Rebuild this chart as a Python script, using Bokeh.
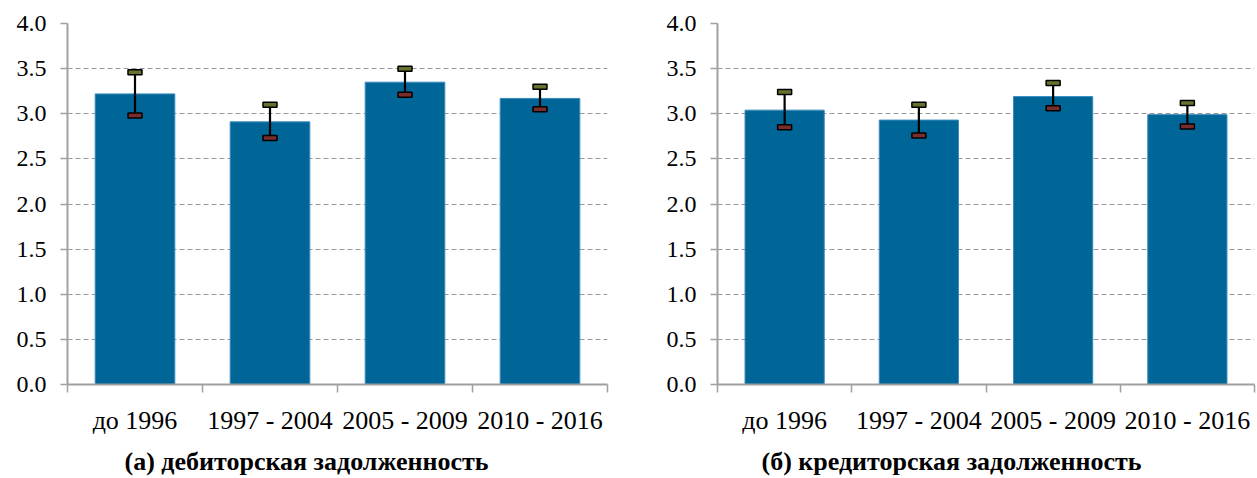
from bokeh.plotting import figure
from bokeh.layouts import row
from bokeh.models import (FixedTicker, NumeralTickFormatter, Range1d, Title, ColumnDataSource)
from bokeh.embed import file_html
from bokeh.resources import INLINE

categories = ["до 1996", "1997 - 2004", "2005 - 2009", "2010 - 2016"]
y_ticks = [0.0, 0.5, 1.0, 1.5, 2.0, 2.5, 3.0, 3.5, 4.0]

recv_mean = [3.22, 2.91, 3.35, 3.17]
recv_upper = [3.46, 3.10, 3.50, 3.30]
recv_lower = [2.98, 2.73, 3.21, 3.05]

pay_mean = [3.04, 2.93, 3.19, 2.99]
pay_upper = [3.24, 3.10, 3.34, 3.12]
pay_lower = [2.85, 2.76, 3.06, 2.86]

titles = ["(а) дебиторская задолженность", "(б) кредиторская задолженность"]

BAR = "#006597"
GRAY = "#a0a0a0"
FONT = "Liberation Serif"


def panel(mean, upper, lower, title, fw, left, right, toff):
    xs = [i + 0.5 for i in range(len(categories))]
    p = figure(output_backend="svg", toolbar_location=None,
               frame_width=fw, frame_height=361,
               x_range=Range1d(0, len(categories)), y_range=Range1d(0, 4),
               min_border_left=left, min_border_right=right,
               min_border_top=23, min_border_bottom=0)
    p.outline_line_color = None
    p.background_fill_color = "white"
    p.border_fill_color = "white"

    src = ColumnDataSource(dict(x=xs, m=mean, u=upper, l=lower))
    p.vbar(x="x", top="m", width=0.59, bottom=0, source=src,
           fill_color=BAR, line_color="#3a8cc0", line_width=1)
    p.segment(x0="x", y0="l", x1="x", y1="u", source=src,
              line_color="black", line_width=2.2)
    p.rect(x="x", y="u", width=14, height=5, width_units="screen",
           height_units="screen", source=src, fill_color="#66732e",
           line_color="black", line_width=1.5)
    p.rect(x="x", y="l", width=14, height=5, width_units="screen",
           height_units="screen", source=src, fill_color="#7a2c2c",
           line_color="black", line_width=1.5)

    # x axis
    xa = p.xaxis[0]
    xa.ticker = FixedTicker(ticks=xs, minor_ticks=list(range(len(categories) + 1)))
    xa.major_label_overrides = {x: c for x, c in zip(xs, categories)}
    xa.major_tick_line_color = None
    xa.major_tick_out = 0
    xa.major_tick_in = 0
    xa.minor_tick_line_color = GRAY
    xa.minor_tick_out = 8
    xa.minor_tick_in = 0
    xa.minor_tick_line_width = 1.5
    xa.axis_line_color = GRAY
    xa.axis_line_width = 2
    xa.major_label_text_font = FONT
    xa.major_label_text_font_size = "26px"
    xa.major_label_text_color = "black"
    xa.major_label_standoff = 13

    # y axis
    ya = p.yaxis[0]
    ya.ticker = FixedTicker(ticks=y_ticks, minor_ticks=[])
    ya.formatter = NumeralTickFormatter(format="0.0")
    ya.major_tick_line_color = GRAY
    ya.major_tick_out = 7
    ya.major_tick_in = 0
    ya.major_tick_line_width = 1.5
    ya.minor_tick_line_color = None
    ya.axis_line_color = GRAY
    ya.axis_line_width = 2
    ya.major_label_text_font = FONT
    ya.major_label_text_font_size = "24px"
    ya.major_label_text_color = "black"
    ya.major_label_standoff = 14

    p.xgrid.grid_line_color = None
    p.ygrid.grid_line_color = "#999999"
    p.ygrid.grid_line_dash = "5 3"
    p.ygrid.grid_line_width = 1.2
    p.ygrid.ticker = FixedTicker(ticks=y_ticks[1:])

    t = Title(text=title, align="left", offset=toff, text_font=FONT,
              text_font_size="26px", text_font_style="bold",
              text_color="black", standoff=14)
    p.add_layout(t, "below")
    return p


p1 = panel(recv_mean, recv_upper, recv_lower, titles[0], 540, 67, 10, 57)
p2 = panel(pay_mean, pay_upper, pay_lower, titles[1], 537, 100, 3, 44)

layout = row(p1, p2, spacing=0)
open("out.html", "w").write(file_html(layout, INLINE))
